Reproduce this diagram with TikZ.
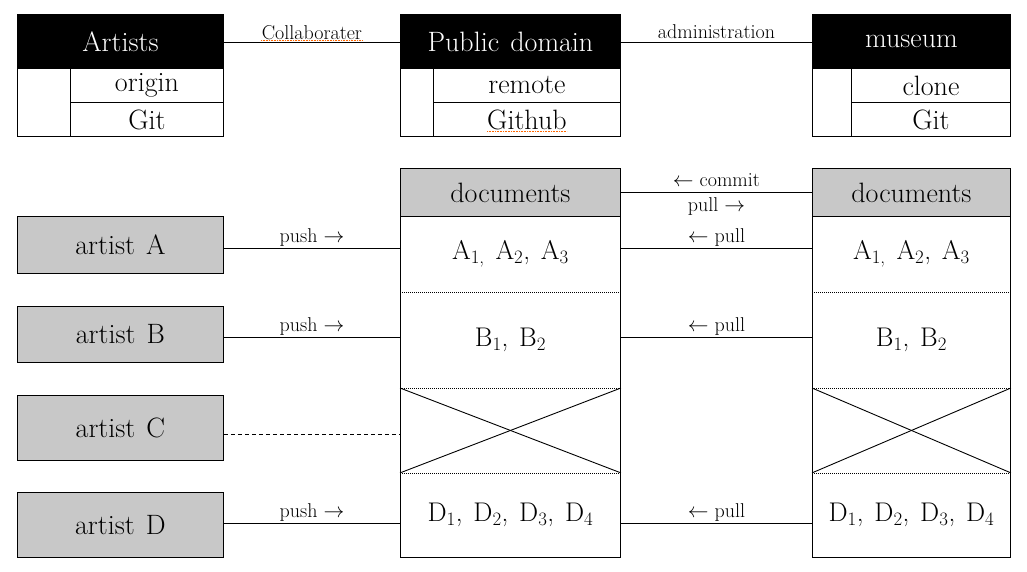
\documentclass[tikz,border=0pt]{standalone}
\usetikzlibrary{positioning}
\definecolor{boxgray}{HTML}{C8C8C8}
\newcommand{\gapsp}{\hspace{0.4em}}
\begin{document}
\begin{tikzpicture}[x=1pt,y=-1pt,
  line width=0.9pt,
  big/.style={font=\fontsize{28}{32}\selectfont},
  mid/.style={font=\fontsize{27}{31}\selectfont},
  small/.style={font=\fontsize{20}{24}\selectfont},
  cell/.style={draw, inner sep=0pt, anchor=north west, big},
  head/.style={cell, fill=black, text=white},
  part/.style={inner sep=0pt, anchor=north west, mid},
  artbox/.style={cell, fill=boxgray},
  lbl/.style={small, inner sep=1.5pt},
  dotline/.style={line width=0.8pt, dash pattern=on 1pt off 1pt},
  squiggle/.style={draw=orange!80!red, line width=0.6pt, dash pattern=on 0.8pt off 0.8pt}
]
\useasboundingbox (0,0) rectangle (1027,572);

% ---- top boxes ----
\node[head, minimum width=206, minimum height=54] (artH) at (17,14) {Artists};
\node[cell, minimum width=53, minimum height=68] (artS) at (17,68) {};
\node[cell, minimum width=153, minimum height=34] (artO) at (70,68) {origin};
\node[cell, minimum width=153, minimum height=34] (artG) at (70,102) {Git};

\node[head, minimum width=220, minimum height=54] (pubH) at (400,14) {Public\gapsp domain};
\node[cell, minimum width=33, minimum height=68] (pubS) at (400,68) {};
\node[cell, minimum width=187, minimum height=34] (pubR) at (433,68) {remote};
\node[cell, minimum width=187, minimum height=34] (pubG) at (433,102) {Github};

\node[head, minimum width=198, minimum height=54] (musH) at (812,14) {museum};
\node[cell, minimum width=39, minimum height=68] (musS) at (812,68) {};
\node[cell, minimum width=159, minimum height=34] (musC) at (851,68) {clone};
\node[cell, minimum width=159, minimum height=34] (musG) at (851,102) {Git};

\draw ([yshift=-1pt]artH.east) -- node[lbl, above, inner sep=2.5pt] (lCol) {Collaborater} ([yshift=-1pt]pubH.west);
\draw ([yshift=-1pt]pubH.east) -- node[lbl, above, inner sep=3pt] (lAdm) {administration} ([yshift=-1pt]musH.west);
\draw[squiggle] ([xshift=2pt,yshift=-1.5pt]lCol.base west) -- ([xshift=-2pt,yshift=-1.5pt]lCol.base east);
\draw[squiggle] ([xshift=-40pt,yshift=-2.5pt]pubG.base) -- ([xshift=40pt,yshift=-2.5pt]pubG.base);

% ---- documents columns ----
\node[cell, fill=boxgray, minimum width=220, minimum height=48] (dLh) at (400,168) {documents};
\node[part, minimum width=220, minimum height=75] (dLa) at (400,216) {A\textsubscript{1,}\gapsp A\textsubscript{2},\gapsp A\textsubscript{3}};
\node[part, minimum width=220, minimum height=97] (dLb) at (400,291) {B\textsubscript{1},\gapsp B\textsubscript{2}};
\node[part, minimum width=220, minimum height=84] (dLc) at (400,388) {};
\node[part, minimum width=220, minimum height=85] (dLd) at (400,472) {D\textsubscript{1},\gapsp D\textsubscript{2},\gapsp D\textsubscript{3},\gapsp D\textsubscript{4}};
\draw (dLh.south west) rectangle (dLd.south east);
\draw[dotline] (dLa.south west) -- (dLa.south east);
\draw[dotline] (dLc.north west) -- (dLc.north east);
\draw[dotline] (dLc.south west) -- (dLc.south east);
\draw (dLc.north west) -- (dLc.south east);
\draw (dLc.south west) -- (dLc.north east);

\node[cell, fill=boxgray, minimum width=198, minimum height=48] (dRh) at (812,168) {documents};
\node[part, minimum width=198, minimum height=75] (dRa) at (812,216) {A\textsubscript{1,}\gapsp A\textsubscript{2},\gapsp A\textsubscript{3}};
\node[part, minimum width=198, minimum height=97] (dRb) at (812,291) {B\textsubscript{1},\gapsp B\textsubscript{2}};
\node[part, minimum width=198, minimum height=84] (dRc) at (812,388) {};
\node[part, minimum width=198, minimum height=85] (dRd) at (812,472) {D\textsubscript{1},\gapsp D\textsubscript{2},\gapsp D\textsubscript{3},\gapsp D\textsubscript{4}};
\draw (dRh.south west) rectangle (dRd.south east);
\draw[dotline] (dRa.south west) -- (dRa.south east);
\draw[dotline] (dRc.north west) -- (dRc.north east);
\draw[dotline] (dRc.south west) -- (dRc.south east);
\draw (dRc.north west) -- (dRc.south east);
\draw (dRc.south west) -- (dRc.north east);

% ---- artists ----
\node[artbox, minimum width=206, minimum height=57] (aA) at (17,216) {artist\gapsp A};
\node[artbox, minimum width=206, minimum height=56] (aB) at (17,306) {artist\gapsp B};
\node[artbox, minimum width=206, minimum height=65] (aC) at (17,395) {artist\gapsp C};
\node[artbox, minimum width=206, minimum height=65] (aD) at (17,492) {artist\gapsp D};

\draw ([yshift=-3.5pt]aA.east) -- node[lbl, above] {push $\rightarrow$} ([yshift=-3.5pt]aA.east -| dLa.west);
\draw ([yshift=-3pt]aB.east) -- node[lbl, above] {push $\rightarrow$} ([yshift=-3pt]aB.east -| dLb.west);
\draw[dash pattern=on 4pt off 3pt] ([yshift=-6.5pt]aC.east) -- ([yshift=-6.5pt]aC.east -| dLc.west);
\draw ([yshift=1.5pt]aD.east) -- node[lbl, above] {push $\rightarrow$} ([yshift=1.5pt]aD.east -| dLd.west);

% ---- right connectors ----
\draw (dLh.east) -- node[lbl, above, inner sep=0.5pt, yshift=5pt] {$\leftarrow$ commit} node[lbl, below, inner sep=0.5pt, yshift=-4pt] {pull $\rightarrow$} (dRh.west);
\draw ([yshift=5.5pt]dLa.east) -- node[lbl, above] {$\leftarrow$ pull} ([yshift=5.5pt]dRa.west);
\draw ([yshift=2.5pt]dLb.east) -- node[lbl, above] {$\leftarrow$ pull} ([yshift=2.5pt]dRb.west);
\draw ([yshift=-8.5pt]dLd.east) -- node[lbl, above] {$\leftarrow$ pull} ([yshift=-8.5pt]dRd.west);
\end{tikzpicture}
\end{document}
